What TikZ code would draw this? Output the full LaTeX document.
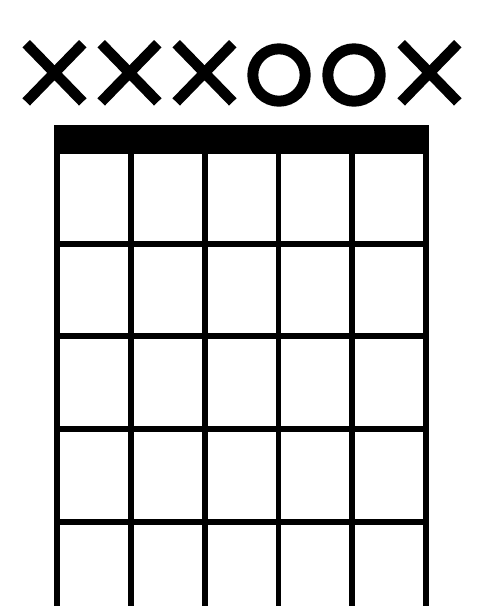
\documentclass[tikz,border=0pt]{standalone}
\begin{document}
\begin{tikzpicture}[x=1pt,y=-1pt,
  stringline/.style={line width=5.7pt},
  fretline/.style={line width=6pt},
  mutedmark/.style={line width=10.5pt},
  openmark/.style={line width=11pt}]
\useasboundingbox (0,0) rectangle (477,606);
\fill[white] (0,0) rectangle (477,606);
% nut
\fill[black] (54,125) rectangle (429.2,154.3);
% strings
\foreach \sx in {57.0,130.8,204.7,278.5,352.3,426.2}
  \draw[stringline] (\sx,150) -- (\sx,606);
% frets
\foreach \fy in {243.7,336.3,428.9,521.5}
  \draw[fretline] (54,\fy) -- (429.2,\fy);
% muted strings
\foreach \cx in {54.5,129.5,204.5,429.5}
  \draw[mutedmark] (\cx-28.3,72.8-29.1) -- (\cx+28.3,72.8+29.1)
                   (\cx-28.3,72.8+29.1) -- (\cx+28.3,72.8-29.1);
% open strings
\foreach \cx in {279,354}
  \draw[openmark] (\cx,75) circle [radius=26.2];
\end{tikzpicture}
\end{document}
